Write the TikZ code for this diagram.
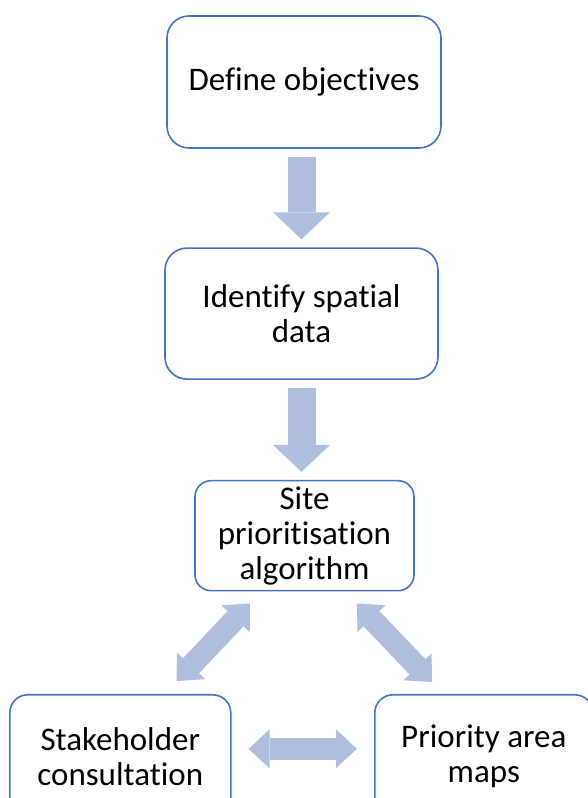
\documentclass[tikz,border=0pt]{standalone}
\usepackage{fontspec}
\setmainfont{Carlito}[Ligatures=NoCommon]
\usepackage{tikz}
\usetikzlibrary{arrows.meta, positioning, calc}
\definecolor{boxFg}{RGB}{68, 114, 196}
\definecolor{arrowBg}{RGB}{176, 190, 222}
\tikzstyle{basic} = [rectangle, draw=boxFg, line width=1.6pt, fill=white, text=black, align=center, inner sep=0pt, font=\fontsize{33}{35}\selectfont]
\tikzstyle{downarrow} = [arrowBg, line width=28pt, -{Triangle[length=27pt, width=57pt, line width=0pt]}, shorten <=8pt, shorten >=8pt]
\tikzstyle{dblarrow} = [arrowBg, line width=22pt, {Triangle[length=21pt, width=39pt, line width=0pt]}-{Triangle[length=21pt, width=39pt, line width=0pt]}]

\begin{document}
\begin{tikzpicture}[x=1pt, y=1pt]

\useasboundingbox (0,0) rectangle (588,798);
\clip (0,0) rectangle (588,798);

\node (define) [basic, minimum width=274pt, minimum height=132pt, rounded corners=22pt] at (304,716) {Define objectives};
\node (identify) [basic, minimum width=273pt, minimum height=131pt, rounded corners=22pt, anchor=north, xshift=-2.5pt, yshift=-98.5pt] at(define.south) {Identify spatial\\data};
\node (site) [basic, minimum width=219pt, minimum height=110pt, rounded corners=16pt, anchor=north, xshift=3pt, yshift=-100pt] at(identify.south) {Site\\prioritisation\\algorithm};

\node (stake) [basic, minimum width=221pt, minimum height=124pt, rounded corners=18pt, anchor=north west] at (9,104) {Stakeholder\\consultation};
\node (priority) [basic, minimum width=218pt, minimum height=124pt, rounded corners=18pt, anchor=north west] at (374,104) {Priority area\\maps};

\draw [downarrow] (identify.north |- define.south) -- (identify.north);
\draw [downarrow] (identify.south) -- (identify.south |- site.north);

\draw [dblarrow] ($(site.south)+(-54.5,-12)$) -- ($(stake.north east)+(-55,13)$);
\draw [dblarrow] ($(site.south)+(52.5,-12)$) -- ($(priority.north west)+(58,12)$);
\draw [dblarrow] ($(stake.east)+(17,8)$) -- ($(priority.west)+(-17,8)$);

\end{tikzpicture}
\end{document}
